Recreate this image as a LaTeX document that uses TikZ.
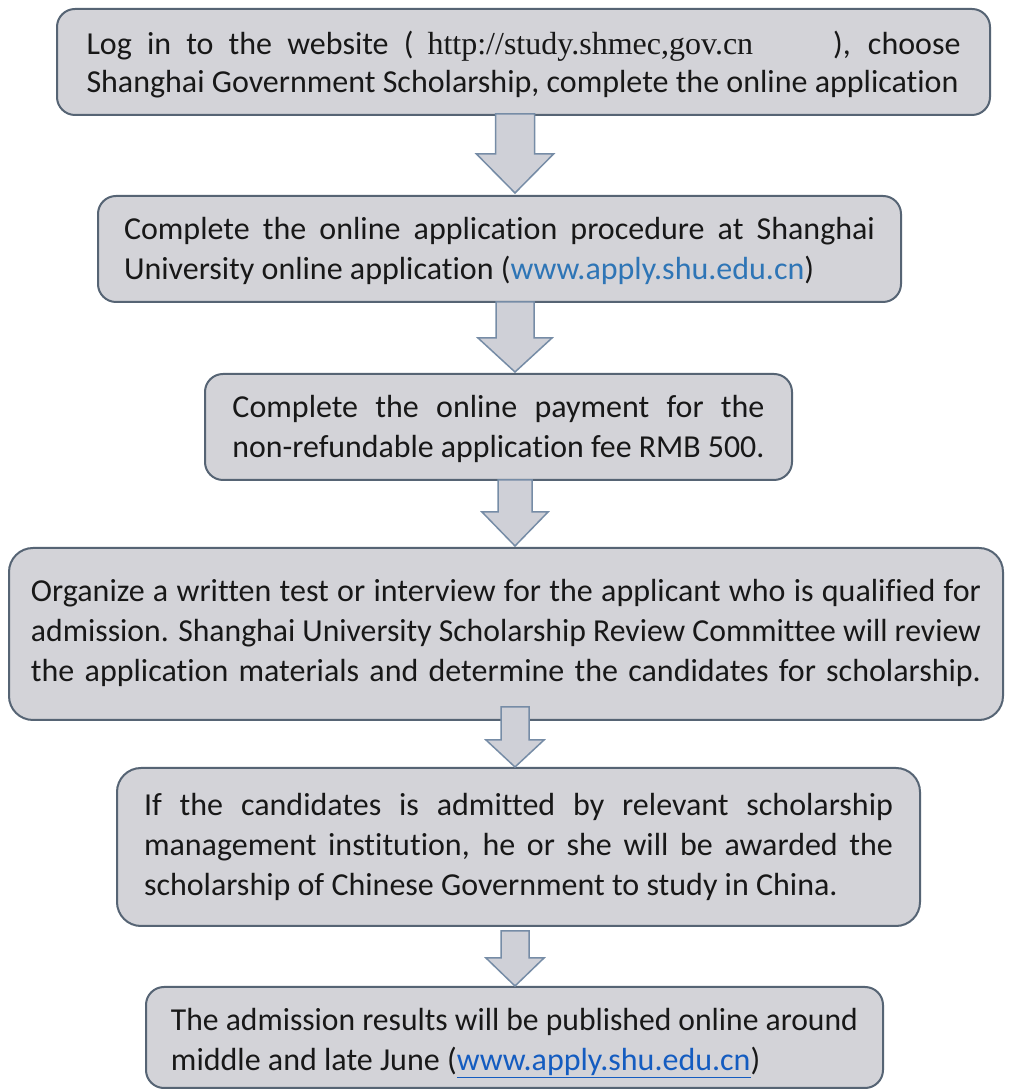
\documentclass[tikz,border=0pt]{standalone}
\usepackage{fontspec}
\setmainfont[Ligatures=NoCommon]{Carlito}
\newfontfamily\urlserif{Liberation Serif}
\usepackage{graphicx}
\usetikzlibrary{calc}
\definecolor{boxfill}{RGB}{211,211,216}
\definecolor{boxline}{RGB}{86,100,116}
\definecolor{arrfill}{RGB}{207,208,215}
\definecolor{arrline}{RGB}{118,140,166}
\definecolor{linkblue}{RGB}{46,117,182}
\definecolor{linkdark}{RGB}{20,92,192}
\definecolor{txt}{RGB}{24,24,24}
\newlength\jlen
\newcommand\jline[2]{\settowidth\jlen{#2}\ifdim\jlen<#1\relax\makebox[#1][s]{#2}\else\resizebox{#1}{\height}{#2}\fi}
\newcommand\tblock[3]{\fontsize{32}{#2}\selectfont\raisebox{#1}[\height][\depth]{\begin{tabular}{@{}l@{}}#3\end{tabular}}}
\newcommand\blockarrow[7]{\filldraw[blockarr] let \p1=($(#1.south -| ax)+(0,#3)$), \p2=($(#2.north -| ax)+(0,#4)$) in (\x1-#5pt,\y1) -- (\x1+#5pt,\y1) -- (\x1+#5pt,\y2+#7pt) -- (\x1+#6pt,\y2+#7pt) -- (\x2,\y2) -- (\x1-#6pt,\y2+#7pt) -- (\x1-#5pt,\y2+#7pt) -- cycle;}
\begin{document}
\begin{tikzpicture}[x=1pt,y=1pt,
  stepbox/.style={draw=boxline, line width=2pt, fill=boxfill, rounded corners=18pt, inner sep=0pt, text=txt},
  blockarr/.style={draw=arrline, line width=1.5pt, fill=arrfill, line join=miter}]
\useasboundingbox (0,0) rectangle (1009,1090);
\fill[white] (0,0) rectangle (1009,1090);
\node[stepbox, minimum width=933pt, minimum height=106pt] (b1) at (523.5,1028)
  {\tblock{-4pt}{38pt}{\jline{874pt}{Log in to the website (\hspace{14pt}{\urlserif http://study.shmec,gov.cn}\hspace{80pt}), choose}\\
   Shanghai Government Scholarship, complete the online application}};
\node[stepbox, minimum width=803pt, minimum height=106pt] (b2) at (499.5,841)
  {\tblock{-3pt}{40pt}{\jline{751pt}{Complete the online application procedure at Shanghai}\\
   University online application ({\color{linkblue}www.apply.shu.edu.cn})}};
\node[stepbox, minimum width=587pt, minimum height=106pt] (b3) at (498.5,663)
  {\tblock{-3pt}{40pt}{\jline{532pt}{Complete the online payment for the}\\
   \jline{532pt}{non-refundable application fee RMB 500.}}};
\node[stepbox, rounded corners=24pt, minimum width=994pt, minimum height=172pt] (b4) at (506,456)
  {\tblock{0pt}{40pt}{\jline{950pt}{Organize a written test or interview for the applicant who is qualified for}\\
   \jline{950pt}{admission. Shanghai University Scholarship Review Committee will review}\\
   \jline{950pt}{the application materials and determine the candidates for scholarship.}}};
\node[stepbox, rounded corners=24pt, minimum width=803pt, minimum height=158pt] (b5) at (518.5,243)
  {\tblock{-1pt}{40pt}{\jline{749pt}{If the candidates is admitted by relevant scholarship}\\
   \jline{749pt}{management institution, he or she will be awarded the}\\
   scholarship of Chinese Government to study in China.}};
\node[stepbox, minimum width=737pt, minimum height=101pt] (b6) at (514.5,52.5)
  {\tblock{-5pt}{40pt}{\jline{687pt}{The admission results will be published online around}\\
   middle and late June ({\color{linkdark}\underline{www.apply.shu.edu.cn}})}};
\coordinate (ax) at (515,0);
\blockarrow{b1}{b2}{2}{2}{19.5}{38.5}{39}
\blockarrow{b2}{b3}{1}{1}{19}{37}{34}
\blockarrow{b3}{b4}{1}{1}{17}{33}{34}
\blockarrow{b4}{b5}{14}{0}{14}{29}{27}
\blockarrow{b5}{b6}{-4}{0}{14}{29}{28}
\end{tikzpicture}
\end{document}
